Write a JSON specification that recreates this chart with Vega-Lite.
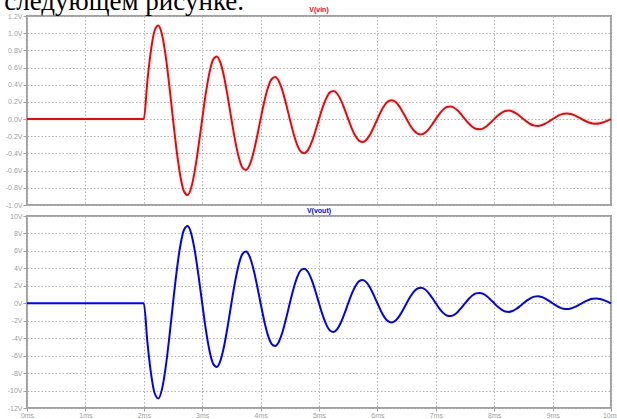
{
  "$schema": "https://vega.github.io/schema/vega-lite/v6.json",
  "background": "white",
  "padding": {"left": 4, "top": -12, "right": 0, "bottom": 0},
  "title": {
    "text": "следующем рисунке.",
    "anchor": "start",
    "frame": "bounds",
    "font": "Liberation Serif",
    "fontSize": 27,
    "fontWeight": "normal",
    "color": "#000000",
    "baseline": "alphabetic",
    "offset": -32
  },
  "config": {
    "view": {"stroke": "#a0a0a0", "strokeWidth": 2},
    "axis": {
      "title": null,
      "domain": false,
      "labelFont": "Liberation Sans",
      "labelFontSize": 7,
      "labelColor": "#a0a0a0",
      "labelPadding": 1,
      "labelOverlap": false,
      "labelFlush": false,
      "tickColor": "#a0a0a0",
      "tickSize": 4,
      "gridColor": "#b4b4b4",
      "gridDash": [1.5, 2],
      "gridWidth": 1
    }
  },
  "datasets": {
    "wave": [
      {"t": 0, "vin": 0, "vout": 0},
      {"t": 2, "vin": 0, "vout": 0},
      {"t": 2.0625, "vin": 0.451, "vout": -4.51},
      {"t": 2.125, "vin": 0.812, "vout": -8.12},
      {"t": 2.1875, "vin": 1.034, "vout": -10.34},
      {"t": 2.25, "vin": 1.09, "vout": -10.9},
      {"t": 2.3125, "vin": 0.981, "vout": -9.81},
      {"t": 2.375, "vin": 0.732, "vout": -7.32},
      {"t": 2.4375, "vin": 0.386, "vout": -3.86},
      {"t": 2.5, "vin": 0, "vout": 0},
      {"t": 2.5625, "vin": -0.366, "vout": 3.66},
      {"t": 2.625, "vin": -0.659, "vout": 6.59},
      {"t": 2.6875, "vin": -0.84, "vout": 8.4},
      {"t": 2.75, "vin": -0.885, "vout": 8.85},
      {"t": 2.8125, "vin": -0.797, "vout": 7.97},
      {"t": 2.875, "vin": -0.594, "vout": 5.94},
      {"t": 2.9375, "vin": -0.313, "vout": 3.13},
      {"t": 3, "vin": 0, "vout": 0},
      {"t": 3.0625, "vin": 0.302, "vout": -3.02},
      {"t": 3.125, "vin": 0.544, "vout": -5.44},
      {"t": 3.1875, "vin": 0.693, "vout": -6.93},
      {"t": 3.25, "vin": 0.73, "vout": -7.3},
      {"t": 3.3125, "vin": 0.657, "vout": -6.57},
      {"t": 3.375, "vin": 0.49, "vout": -4.9},
      {"t": 3.4375, "vin": 0.259, "vout": -2.59},
      {"t": 3.5, "vin": 0, "vout": 0},
      {"t": 3.5625, "vin": -0.245, "vout": 2.45},
      {"t": 3.625, "vin": -0.442, "vout": 4.42},
      {"t": 3.6875, "vin": -0.563, "vout": 5.63},
      {"t": 3.75, "vin": -0.593, "vout": 5.93},
      {"t": 3.8125, "vin": -0.534, "vout": 5.34},
      {"t": 3.875, "vin": -0.398, "vout": 3.98},
      {"t": 3.9375, "vin": -0.21, "vout": 2.1},
      {"t": 4, "vin": 0, "vout": 0},
      {"t": 4.0625, "vin": 0.202, "vout": -2.02},
      {"t": 4.125, "vin": 0.365, "vout": -3.65},
      {"t": 4.1875, "vin": 0.464, "vout": -4.64},
      {"t": 4.25, "vin": 0.489, "vout": -4.89},
      {"t": 4.3125, "vin": 0.44, "vout": -4.4},
      {"t": 4.375, "vin": 0.329, "vout": -3.29},
      {"t": 4.4375, "vin": 0.173, "vout": -1.73},
      {"t": 4.5, "vin": 0, "vout": 0},
      {"t": 4.5625, "vin": -0.164, "vout": 1.64},
      {"t": 4.625, "vin": -0.296, "vout": 2.96},
      {"t": 4.6875, "vin": -0.377, "vout": 3.77},
      {"t": 4.75, "vin": -0.397, "vout": 3.97},
      {"t": 4.8125, "vin": -0.358, "vout": 3.58},
      {"t": 4.875, "vin": -0.267, "vout": 2.67},
      {"t": 4.9375, "vin": -0.141, "vout": 1.41},
      {"t": 5, "vin": 0, "vout": 0},
      {"t": 5.0625, "vin": 0.136, "vout": -1.36},
      {"t": 5.125, "vin": 0.244, "vout": -2.44},
      {"t": 5.1875, "vin": 0.311, "vout": -3.11},
      {"t": 5.25, "vin": 0.328, "vout": -3.28},
      {"t": 5.3125, "vin": 0.295, "vout": -2.95},
      {"t": 5.375, "vin": 0.22, "vout": -2.2},
      {"t": 5.4375, "vin": 0.116, "vout": -1.16},
      {"t": 5.5, "vin": 0, "vout": 0},
      {"t": 5.5625, "vin": -0.11, "vout": 1.1},
      {"t": 5.625, "vin": -0.198, "vout": 1.98},
      {"t": 5.6875, "vin": -0.253, "vout": 2.53},
      {"t": 5.75, "vin": -0.266, "vout": 2.66},
      {"t": 5.8125, "vin": -0.24, "vout": 2.4},
      {"t": 5.875, "vin": -0.179, "vout": 1.79},
      {"t": 5.9375, "vin": -0.094, "vout": 0.94},
      {"t": 6, "vin": 0, "vout": 0},
      {"t": 6.0625, "vin": 0.091, "vout": -0.91},
      {"t": 6.125, "vin": 0.164, "vout": -1.64},
      {"t": 6.1875, "vin": 0.208, "vout": -2.08},
      {"t": 6.25, "vin": 0.22, "vout": -2.2},
      {"t": 6.3125, "vin": 0.198, "vout": -1.98},
      {"t": 6.375, "vin": 0.148, "vout": -1.48},
      {"t": 6.4375, "vin": 0.078, "vout": -0.78},
      {"t": 6.5, "vin": 0, "vout": 0},
      {"t": 6.5625, "vin": -0.074, "vout": 0.74},
      {"t": 6.625, "vin": -0.133, "vout": 1.33},
      {"t": 6.6875, "vin": -0.169, "vout": 1.69},
      {"t": 6.75, "vin": -0.178, "vout": 1.78},
      {"t": 6.8125, "vin": -0.161, "vout": 1.61},
      {"t": 6.875, "vin": -0.12, "vout": 1.2},
      {"t": 6.9375, "vin": -0.063, "vout": 0.63},
      {"t": 7, "vin": 0, "vout": 0},
      {"t": 7.0625, "vin": 0.061, "vout": -0.61},
      {"t": 7.125, "vin": 0.11, "vout": -1.1},
      {"t": 7.1875, "vin": 0.14, "vout": -1.4},
      {"t": 7.25, "vin": 0.147, "vout": -1.47},
      {"t": 7.3125, "vin": 0.132, "vout": -1.32},
      {"t": 7.375, "vin": 0.099, "vout": -0.99},
      {"t": 7.4375, "vin": 0.052, "vout": -0.52},
      {"t": 7.5, "vin": 0, "vout": 0},
      {"t": 7.5625, "vin": -0.049, "vout": 0.49},
      {"t": 7.625, "vin": -0.089, "vout": 0.89},
      {"t": 7.6875, "vin": -0.113, "vout": 1.13},
      {"t": 7.75, "vin": -0.119, "vout": 1.19},
      {"t": 7.8125, "vin": -0.108, "vout": 1.08},
      {"t": 7.875, "vin": -0.08, "vout": 0.8},
      {"t": 7.9375, "vin": -0.042, "vout": 0.42},
      {"t": 8, "vin": 0, "vout": 0},
      {"t": 8.0625, "vin": 0.041, "vout": -0.41},
      {"t": 8.125, "vin": 0.073, "vout": -0.73},
      {"t": 8.1875, "vin": 0.094, "vout": -0.94},
      {"t": 8.25, "vin": 0.099, "vout": -0.99},
      {"t": 8.3125, "vin": 0.089, "vout": -0.89},
      {"t": 8.375, "vin": 0.066, "vout": -0.66},
      {"t": 8.4375, "vin": 0.035, "vout": -0.35},
      {"t": 8.5, "vin": 0, "vout": 0},
      {"t": 8.5625, "vin": -0.033, "vout": 0.33},
      {"t": 8.625, "vin": -0.06, "vout": 0.6},
      {"t": 8.6875, "vin": -0.076, "vout": 0.76},
      {"t": 8.75, "vin": -0.08, "vout": 0.8},
      {"t": 8.8125, "vin": -0.072, "vout": 0.72},
      {"t": 8.875, "vin": -0.054, "vout": 0.54},
      {"t": 8.9375, "vin": -0.028, "vout": 0.28},
      {"t": 9, "vin": 0, "vout": 0},
      {"t": 9.0625, "vin": 0.027, "vout": -0.27},
      {"t": 9.125, "vin": 0.049, "vout": -0.49},
      {"t": 9.1875, "vin": 0.063, "vout": -0.63},
      {"t": 9.25, "vin": 0.066, "vout": -0.66},
      {"t": 9.3125, "vin": 0.059, "vout": -0.59},
      {"t": 9.375, "vin": 0.044, "vout": -0.44},
      {"t": 9.4375, "vin": 0.023, "vout": -0.23},
      {"t": 9.5, "vin": 0, "vout": 0},
      {"t": 9.5625, "vin": -0.022, "vout": 0.22},
      {"t": 9.625, "vin": -0.04, "vout": 0.4},
      {"t": 9.6875, "vin": -0.051, "vout": 0.51},
      {"t": 9.75, "vin": -0.054, "vout": 0.54},
      {"t": 9.8125, "vin": -0.048, "vout": 0.48},
      {"t": 9.875, "vin": -0.036, "vout": 0.36},
      {"t": 9.9375, "vin": -0.019, "vout": 0.19},
      {"t": 10, "vin": 0, "vout": 0}
    ]
  },
  "bounds": "flush",
  "spacing": 11,
  "vconcat": [
    {
      "width": 584,
      "height": 189,
      "data": {"name": "wave"},
      "title": {"text": "V(vin)", "color": "#ff0000", "font": "Liberation Sans", "fontSize": 7, "fontWeight": "bold", "anchor": "middle", "baseline": "bottom", "offset": -8},
      "mark": {"type": "line", "color": "#ff0000", "strokeWidth": 2, "interpolate": "monotone"},
      "encoding": {
        "x": {
          "field": "t", "type": "quantitative",
          "scale": {"domain": [0, 10], "nice": false},
          "axis": {"values": [0, 1, 2, 3, 4, 5, 6, 7, 8, 9, 10], "labels": false, "ticks": false}
        },
        "y": {
          "field": "vin", "type": "quantitative",
          "scale": {"domain": [-1, 1.2], "nice": false, "zero": false},
          "axis": {
            "values": [-1, -0.8, -0.6, -0.4, -0.2, 0, 0.2, 0.4, 0.6, 0.8, 1, 1.2],
            "labelExpr": "replace(format(datum.value, '.1f'), '\u2212', '-') + 'V'"
          }
        }
      }
    },
    {
      "width": 584,
      "height": 192,
      "data": {"name": "wave"},
      "title": {"text": "V(vout)", "color": "#0000ff", "font": "Liberation Sans", "fontSize": 7, "fontWeight": "bold", "anchor": "middle", "baseline": "bottom", "offset": -8.5},
      "mark": {"type": "line", "color": "#0000ff", "strokeWidth": 2, "interpolate": "monotone"},
      "encoding": {
        "x": {
          "field": "t", "type": "quantitative",
          "scale": {"domain": [0, 10], "nice": false},
          "axis": {"values": [0, 1, 2, 3, 4, 5, 6, 7, 8, 9, 10], "labelExpr": "datum.value + 'ms'", "tickSize": 3, "labelPadding": 0}
        },
        "y": {
          "field": "vout", "type": "quantitative",
          "scale": {"domain": [-12, 10], "nice": false, "zero": false},
          "axis": {
            "values": [-12, -10, -8, -6, -4, -2, 0, 2, 4, 6, 8, 10],
            "labelExpr": "replace(format(datum.value, 'd'), '\u2212', '-') + 'V'"
          }
        }
      }
    }
  ]
}
